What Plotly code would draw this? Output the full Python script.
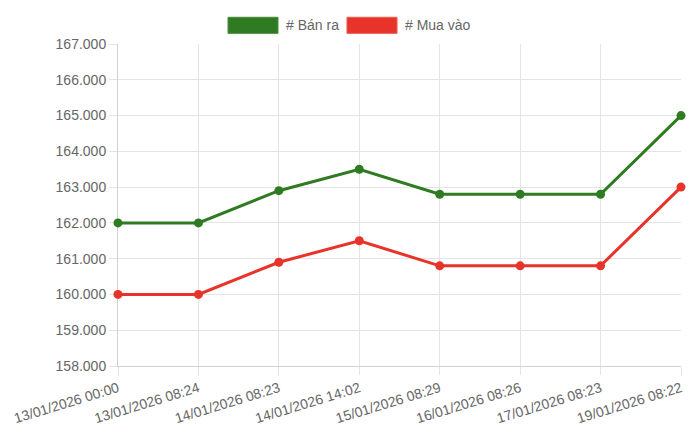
import plotly.graph_objects as go

# Giá vàng theo thời điểm cập nhật
thoi_diem = [
    "13/01/2026 00:00", "13/01/2026 08:24", "14/01/2026 08:23", "14/01/2026 14:02",
    "15/01/2026 08:29", "16/01/2026 08:26", "17/01/2026 08:23", "19/01/2026 08:22",
]
ban_ra = [162000, 162000, 162900, 163500, 162800, 162800, 162800, 165000]
mua_vao = [160000, 160000, 160900, 161500, 160800, 160800, 160800, 163000]

series_names = ["# Bán ra", "# Mua vào"]
series_colors = ["#2f7b21", "#e8332a"]
box_borders = ["#4a8d3c", "#ee5a4f"]

font_family = "Helvetica Neue, Helvetica, Liberation Sans, Arial, sans-serif"
grid = "#e4e4e4"

fig = go.Figure()
for name, vals, col in zip(series_names, [ban_ra, mua_vao], series_colors):
    fig.add_trace(go.Scatter(
        x=thoi_diem, y=vals, name=name, mode="lines+markers",
        line=dict(color=col, width=3),
        marker=dict(color=col, size=9),
        showlegend=False,
        cliponaxis=False,
    ))

# Chart.js style legend: boxes + labels above the plot
legend_boxes = [(0.1954, 0.2842), (0.4067, 0.4956)]
legend_text_x = [0.2948, 0.5062]
for (x0, x1), tx, name, col, bcol in zip(legend_boxes, legend_text_x, series_names, series_colors, box_borders):
    fig.add_shape(type="rect", xref="paper", yref="paper", x0=x0, x1=x1, y0=1.033, y1=1.083,
                  fillcolor=col, line=dict(color=bcol, width=1))
    fig.add_annotation(xref="paper", yref="paper", x=tx, y=1.058, text=name, showarrow=False,
                       xanchor="left", yanchor="middle", font=dict(size=14, color="#666666"))

fig.update_xaxes(
    type="category", range=[0, len(thoi_diem) - 1],
    showgrid=True, gridcolor=grid, gridwidth=1,
    showline=True, linecolor="#d0d0d0", linewidth=1,
    ticks="outside", ticklen=8, tickcolor=grid,
    tickangle=-17, tickfont=dict(size=14, color="#666666"),
    zeroline=False, automargin=False, layer="below traces",
)
fig.update_yaxes(
    range=[158000, 167000], dtick=1000, tickformat=",d",
    showgrid=True, gridcolor=grid, gridwidth=1,
    showline=True, linecolor="#d0d0d0", linewidth=1,
    ticks="outside", ticklen=8, tickcolor=grid,
    tickfont=dict(size=14, color="#666666"),
    zeroline=False, automargin=False, layer="below traces",
)
fig.update_layout(
    width=700, height=441,
    margin=dict(l=110, r=27, t=36, b=83),
    plot_bgcolor="white", paper_bgcolor="white",
    separators=",.",
    font=dict(family=font_family, color="#666666"),
)
fig.write_html("out.html")
